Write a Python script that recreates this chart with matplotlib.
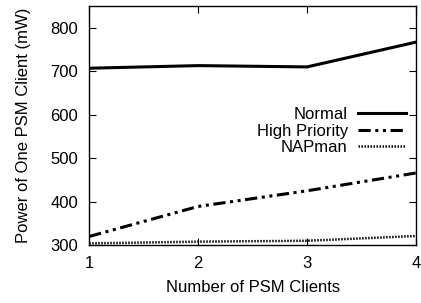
import matplotlib
matplotlib.use("Agg")
import matplotlib.pyplot as plt

plt.rcParams['font.family'] = ['Liberation Sans', 'DejaVu Sans']

clients = [1, 2, 3, 4]
normal = [707, 713, 710, 767]
high_priority = [320, 389, 425, 466]
napman = [304, 308, 310, 321]

fig = plt.figure(figsize=(4.21, 3.03), dpi=100)
ax = fig.add_axes([0.212, 0.191, 0.776, 0.789])

ax.plot(clients, normal, color='black', lw=2.2, label='Normal')
ax.plot(clients, high_priority, color='black', lw=2.2,
        dashes=(4, 1.5, 1, 1.5, 1, 1.5), label='High Priority')
ax.plot(clients, napman, color='black', lw=1.8, dashes=(0.6, 0.6),
        label='NAPman')

ax.set_xlim(1, 4)
ax.set_ylim(300, 850)
ax.set_xticks(clients)
ax.set_yticks([300, 400, 500, 600, 700, 800])
ax.tick_params(direction='in', length=5, top=True, right=True, labelsize=12, pad=8)
for s in ax.spines.values():
    s.set_linewidth(1)

ax.set_xlabel('Number of PSM Clients', fontsize=12, labelpad=6)
ax.set_ylabel('Power of One PSM Client (mW)', fontsize=12, labelpad=14)

ax.legend(loc='upper right', bbox_to_anchor=(0.97, 0.578), frameon=False,
          markerfirst=False, fontsize=12, handlelength=2.9, labelspacing=0.1,
          handletextpad=0.6, borderaxespad=0.0, borderpad=0.0)

fig.savefig('out.png', dpi=100)
